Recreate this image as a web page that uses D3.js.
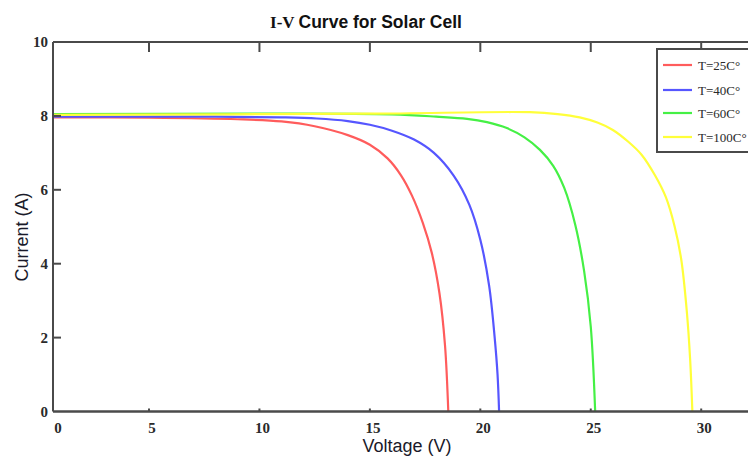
<!DOCTYPE html>
<html>
<head>
<meta charset="utf-8">
<script src="https://cdn.jsdelivr.net/npm/d3@7"></script>
<style>
  body { margin: 0; background: #fff; }
  svg { display: block; }
</style>
</head>
<body>
<div id="chart"></div>
<script>
// series (voltage in V, current in A)
const seriesNames = ['T=25C°', 'T=40C°', 'T=60C°', 'T=100C°'];
const seriesColors = ['#ff5c5c', '#5656ff', '#45f045', '#ffff3a'];

const v25 = [0, 5, 9, 11, 12.5, 14, 15, 15.8, 16.4, 16.9, 17.4, 17.8, 18.15, 18.4, 18.55];
const i25 = [7.96, 7.95, 7.91, 7.85, 7.72, 7.48, 7.22, 6.85, 6.4, 5.85, 5.1, 4.3, 3.2, 1.8, 0];

const v40 = [0, 8, 11, 12.6, 14, 15, 16, 17, 17.9, 18.8, 19.5, 20.0, 20.4, 20.65, 20.78, 20.85];
const i40 = [7.98, 7.98, 7.96, 7.93, 7.86, 7.76, 7.6, 7.36, 7.0, 6.38, 5.6, 4.65, 3.4, 2.0, 1.0, 0];

const v60 = [0, 10, 16, 18, 19.4, 20.3, 21.2, 22.0, 22.7, 23.3, 23.8, 24.3, 24.7, 25.0, 25.2];
const i60 = [8.05, 8.06, 8.04, 7.98, 7.92, 7.83, 7.67, 7.42, 7.08, 6.65, 6.05, 5.05, 3.8, 2.3, 0];

const v100 = [0, 15, 22.25, 23.5, 24.5, 25.3, 26.0, 26.7, 27.3, 27.9, 28.4, 28.8, 29.1, 29.35, 29.5, 29.6];
const i100 = [8.03, 8.06, 8.1, 8.05, 7.96, 7.82, 7.62, 7.3, 6.95, 6.4, 5.8, 5.0, 4.1, 2.7, 1.4, 0];

const xTicks = [0, 5, 10, 15, 20, 25, 30];
const yTicks = [0, 2, 4, 6, 8, 10];

const width = 748;
const height = 459;

const svg = d3.select('#chart').append('svg').attr('width', width).attr('height', height);

// x axis of the original is squeezed between 0 and 5, so use a polylinear scale
const x = d3.scaleLinear().domain([0, 5, 32.3]).range([53, 149, 752]);
const y = d3.scaleLinear().domain([0, 10]).range([411.5, 42]);

const series = [
  { name: seriesNames[0], color: seriesColors[0], pts: d3.zip(v25, i25) },
  { name: seriesNames[1], color: seriesColors[1], pts: d3.zip(v40, i40) },
  { name: seriesNames[2], color: seriesColors[2], pts: d3.zip(v60, i60) },
  { name: seriesNames[3], color: seriesColors[3], pts: d3.zip(v100, i100) },
];

svg.append('defs').append('clipPath').attr('id', 'plot')
  .append('rect').attr('x', x(0)).attr('y', y(10)).attr('width', width - x(0)).attr('height', y(0) - y(10));

const line = d3.line()
  .x((d) => x(d[0]))
  .y((d) => y(d[1]))
  .curve(d3.curveCatmullRom.alpha(0.5));

// curves
svg.append('g')
  .attr('clip-path', 'url(#plot)')
  .selectAll('path')
  .data(series)
  .enter()
  .append('path')
  .attr('d', (d) => line(d.pts))
  .attr('fill', 'none')
  .attr('stroke', (d) => d.color)
  .attr('stroke-width', 2.2);

// frame + ticks
const axisColor = '#4a4a4a';
const frame = svg.append('g').attr('stroke', axisColor).attr('fill', 'none');
frame.append('line').attr('x1', x(0)).attr('x2', width + 5).attr('y1', y(10)).attr('y2', y(10)).attr('stroke-width', 2);
frame.append('line').attr('x1', x(0)).attr('x2', width + 5).attr('y1', y(0)).attr('y2', y(0)).attr('stroke-width', 2.5);
frame.append('line').attr('x1', x(0)).attr('x2', x(0)).attr('y1', y(10)).attr('y2', y(0)).attr('stroke-width', 2);

frame.selectAll('.ttop')
  .data(xTicks.slice(1))
  .enter()
  .append('line')
  .attr('x1', (d) => x(d)).attr('x2', (d) => x(d))
  .attr('y1', y(10)).attr('y2', y(10) + 10)
  .attr('stroke-width', 2);

frame.selectAll('.tbot')
  .data(xTicks.slice(1))
  .enter()
  .append('line')
  .attr('x1', (d) => x(d)).attr('x2', (d) => x(d))
  .attr('y1', y(0)).attr('y2', y(0) - 3)
  .attr('stroke-width', 2);

frame.selectAll('.tleft')
  .data(yTicks.slice(1))
  .enter()
  .append('line')
  .attr('x1', x(0)).attr('x2', x(0) + 8)
  .attr('y1', (d) => y(d)).attr('y2', (d) => y(d))
  .attr('stroke-width', 2);

// tick labels
const tickFont = 'Liberation Serif, Times New Roman, serif';
svg.append('g')
  .selectAll('text')
  .data(xTicks)
  .enter()
  .append('text')
  .attr('x', (d) => x(d) + (d === 0 ? 5 : 3))
  .attr('y', 433)
  .attr('text-anchor', 'middle')
  .attr('font-family', tickFont)
  .attr('font-weight', 'bold')
  .attr('font-size', 15)
  .attr('fill', '#2a2a2a')
  .text((d) => d);

svg.append('g')
  .selectAll('text')
  .data(yTicks)
  .enter()
  .append('text')
  .attr('x', 48)
  .attr('y', (d) => y(d) + 5)
  .attr('text-anchor', 'end')
  .attr('font-family', tickFont)
  .attr('font-weight', 'bold')
  .attr('font-size', 15)
  .attr('fill', '#2a2a2a')
  .text((d) => d);

// axis titles
svg.append('text')
  .attr('x', 407)
  .attr('y', 452)
  .attr('text-anchor', 'middle')
  .attr('font-family', 'Liberation Sans, Arial, sans-serif')
  .attr('font-size', 18)
  .attr('fill', '#1a1a2a')
  .text('Voltage (V)');

svg.append('text')
  .attr('transform', 'translate(28,' + 237 + ') rotate(-90)')
  .attr('text-anchor', 'middle')
  .attr('font-family', 'Liberation Sans, Arial, sans-serif')
  .attr('font-size', 18)
  .attr('fill', '#1a1a2a')
  .text('Current (A)');

// title: "I-V" is set in a serif face in the original
const title = svg.append('text')
  .attr('x', 366)
  .attr('y', 28)
  .attr('text-anchor', 'middle')
  .attr('font-weight', 'bold')
  .attr('fill', '#111');
title.append('tspan').attr('font-family', tickFont).attr('font-size', 17).text('I-V ');
title.append('tspan').attr('font-family', 'Liberation Sans, Arial, sans-serif').attr('font-size', 17.5).text('Curve for Solar Cell');

// legend
const legend = svg.append('g').attr('transform', 'translate(657,49)');
legend.append('rect')
  .attr('width', 120).attr('height', 103)
  .attr('fill', '#fff')
  .attr('stroke', axisColor)
  .attr('stroke-width', 2);

const items = legend.selectAll('.item')
  .data(series)
  .enter()
  .append('g')
  .attr('transform', (d, i) => 'translate(0,' + [16, 41, 64, 88][i] + ')');

items.append('line')
  .attr('x1', 6).attr('x2', 35)
  .attr('stroke', (d) => d.color)
  .attr('stroke-width', 2.2);

items.append('text')
  .attr('x', 41)
  .attr('y', 4.5)
  .attr('font-family', tickFont)
  .attr('font-size', 13)
  .attr('fill', '#2a2a2a')
  .text((d) => d.name);
</script>
</body>
</html>
